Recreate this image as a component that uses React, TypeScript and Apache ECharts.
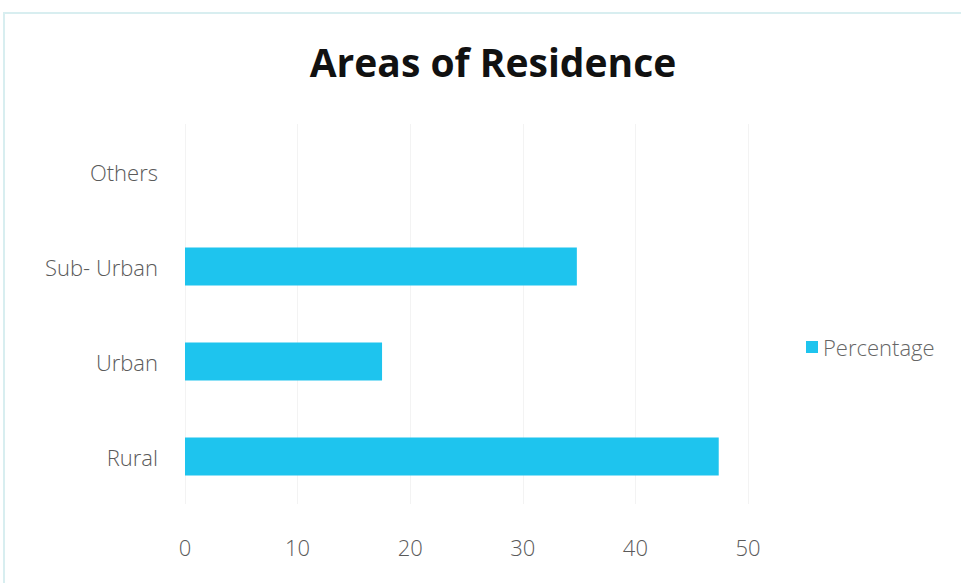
import React, { useEffect, useRef } from "react";
import * as echarts from "echarts";

const categories = ["Rural", "Urban", "Sub- Urban", "Others"];
const percentage = [47.4, 17.5, 34.8, 0];
const xTicks = [0, 10, 20, 30, 40, 50];

export default function App() {
  const ref = useRef<HTMLDivElement>(null);
  useEffect(() => {
    const chart = echarts.init(ref.current!, undefined, { renderer: "svg" });
    const labelFont = { fontFamily: "Open Sans", fontSize: 22, color: "#5a5a5a", fontWeight: 300 };
    chart.setOption({
      animation: false,
      backgroundColor: "#ffffff",
      title: {
        text: "Areas of Residence",
        left: 488,
        textAlign: "center",
        top: 37,
        textStyle: { fontFamily: "Open Sans", fontWeight: "bold", fontSize: 39, color: "#111111" },
      },
      graphic: [
        {
          type: "rect",
          shape: { x: 4, y: 13, width: 970, height: 590 },
          style: { fill: "none", stroke: "#d8eef0", lineWidth: 2 },
        },
      ],
      legend: {
        data: ["Percentage"],
        orient: "vertical",
        left: 801,
        top: 331,
        itemWidth: 12,
        itemHeight: 12,
        icon: "rect",
        itemGap: 6,
        textStyle: { ...labelFont, fontSize: 22, color: "#666666" },
      },
      grid: { left: 185, top: 124, width: 563, height: 380, containLabel: false },
      xAxis: {
        type: "value",
        min: xTicks[0],
        max: xTicks[xTicks.length - 1],
        interval: 10,
        axisLine: { show: false },
        axisTick: { show: false },
        axisLabel: { margin: 32, ...labelFont },
        splitLine: { show: true, lineStyle: { color: "#f3f3f3", width: 1 } },
      },
      yAxis: {
        type: "category",
        data: categories,
        axisLine: { show: false },
        axisTick: { show: false },
        axisLabel: { margin: 27, ...labelFont },
        splitLine: { show: false },
      },
      series: [
        {
          name: "Percentage",
          type: "bar",
          data: percentage,
          barWidth: 38,
          itemStyle: { color: "#1EC4EE" },
        },
      ],
    });
    return () => chart.dispose();
  }, []);
  return <div ref={ref} style={{ width: 961, height: 583, position: "absolute", left: 0, top: 0 }} />;
}
